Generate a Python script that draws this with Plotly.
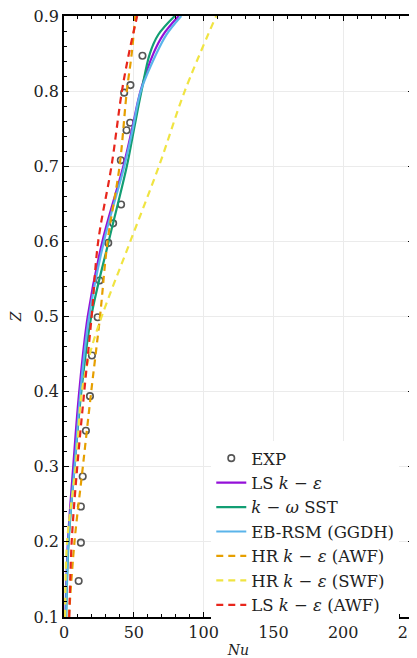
import plotly.graph_objects as go

# EXP data
exp_nu = [56.2, 47.6, 43.1, 47.4, 44.8, 40.7, 40.9, 35.2, 31.7, 25.5, 24.1, 20.0, 18.6, 15.7, 13.4, 12.1, 12.1, 10.5]
exp_z = [0.847, 0.808, 0.798, 0.758, 0.748, 0.708, 0.649, 0.624, 0.598, 0.548, 0.499, 0.448, 0.394, 0.348, 0.287, 0.247, 0.199, 0.148]

# Model curves share the same Z stations
model_z = [0.1, 0.2, 0.3, 0.4, 0.5, 0.6, 0.7, 0.75, 0.8, 0.85, 0.875, 0.9]
ls_nu = [1.0, 2.8, 6.6, 10.9, 17.0, 27.5, 42.5, 48.8, 54.8, 64.0, 71.0, 82.1]     # LS k-eps
sst_nu = [1.5, 3.3, 7.6, 12.4, 19.5, 32.0, 45.0, 50.2, 55.5, 61.5, 67.5, 79.3]    # k-omega SST
eb_nu = [1.5, 3.1, 7.6, 11.8, 18.0, 28.6, 43.2, 49.3, 55.0, 66.2, 73.3, 84.0]     # EB-RSM (GGDH)

# HR k-eps (AWF)
hra_z = [0.1, 0.2, 0.3, 0.4, 0.5, 0.6, 0.7, 0.8, 0.85, 0.9]
hra_nu = [3.5, 7.5, 13.5, 19.5, 25.8, 31.2, 39.8, 45.0, 48.5, 51.0]

# HR k-eps (SWF)
hrs_z = [0.1, 0.2, 0.3, 0.4, 0.45, 0.5, 0.6, 0.7, 0.8, 0.9]
hrs_nu = [0.8, 2.2, 8.4, 12.8, 18.5, 27.0, 47.5, 68.0, 86.5, 109.0]

# LS k-eps (AWF)
lsa_z = [0.1, 0.2, 0.3, 0.4, 0.5, 0.6, 0.7, 0.8, 0.85, 0.9]
lsa_nu = [3.8, 5.5, 9.5, 14.5, 19.8, 24.5, 34.0, 41.5, 46.5, 52.4]

FONT = "DejaVu Serif"
SMOOTH = 1.0

fig = go.Figure()
fig.add_trace(go.Scatter(x=exp_nu, y=exp_z, mode="markers", name="EXP",
                         marker=dict(symbol="circle-open", size=6.5, color="#555555", line=dict(width=1.6))))
fig.add_trace(go.Scatter(x=ls_nu, y=model_z, mode="lines", name="LS <i>k</i> − <i>ε</i>",
                         line=dict(color="#9410D8", width=2.2, shape="spline", smoothing=SMOOTH)))
fig.add_trace(go.Scatter(x=sst_nu, y=model_z, mode="lines", name="<i>k</i> − <i>ω</i> SST",
                         line=dict(color="#129E73", width=2.2, shape="spline", smoothing=SMOOTH)))
fig.add_trace(go.Scatter(x=eb_nu, y=model_z, mode="lines", name="EB-RSM (GGDH)",
                         line=dict(color="#5AB4EA", width=2.2, shape="spline", smoothing=SMOOTH)))
fig.add_trace(go.Scatter(x=hra_nu, y=hra_z, mode="lines", name="HR <i>k</i> − <i>ε</i> (AWF)",
                         line=dict(color="#E69F00", width=2.2, dash="7px,5px", shape="spline", smoothing=SMOOTH)))
fig.add_trace(go.Scatter(x=hrs_nu, y=hrs_z, mode="lines", name="HR <i>k</i> − <i>ε</i> (SWF)",
                         line=dict(color="#F0E442", width=2.2, dash="7px,5px", shape="spline", smoothing=SMOOTH)))
fig.add_trace(go.Scatter(x=lsa_nu, y=lsa_z, mode="lines", name="LS <i>k</i> − <i>ε</i> (AWF)",
                         line=dict(color="#E8261C", width=2.2, dash="7px,5px", shape="spline", smoothing=SMOOTH)))

axis_common = dict(showline=True, linecolor="black", linewidth=1.5, mirror="allticks",
                   ticks="inside", ticklen=5, tickcolor="black", tickwidth=1,
                   showgrid=True, gridcolor="#ebebeb", gridwidth=1, zeroline=False,
                   ticklabeloverflow="allow",
                   tickfont=dict(family=FONT, size=16, color="#222222"), automargin=False)

fig.update_xaxes(range=[0, 250], tickvals=[0, 50, 100, 150, 200, 250],
                 minor=dict(dtick=10, tick0=0, ticks="inside", ticklen=3, tickcolor="black", showgrid=False),
                 title=dict(text="<i>Nu</i>", font=dict(family=FONT, size=14, color="#222222"), standoff=5),
                 **axis_common)
fig.update_yaxes(range=[0.1, 0.9], tickvals=[0.1, 0.2, 0.3, 0.4, 0.5, 0.6, 0.7, 0.8, 0.9],
                 tickformat=".1f",
                 minor=dict(dtick=0.02, tick0=0.1, ticks="inside", ticklen=3, tickcolor="black", showgrid=False),
                 title=dict(text="<i>Z</i>", font=dict(family=FONT, size=14, color="#222222"), standoff=9),
                 **axis_common)

fig.update_layout(
    width=409, height=650,
    margin=dict(l=56, r=4, t=8, b=41),
    paper_bgcolor="white", plot_bgcolor="white",
    font=dict(family=FONT, size=15, color="#222222"),
    showlegend=True,
    legend=dict(x=0.422, y=0.293, xanchor="left", yanchor="top",
                bgcolor="white", borderwidth=0,
                font=dict(family=FONT, size=16.5, color="#222222"),
                itemwidth=30, tracegroupgap=0),
)

fig.write_html("out.html")
